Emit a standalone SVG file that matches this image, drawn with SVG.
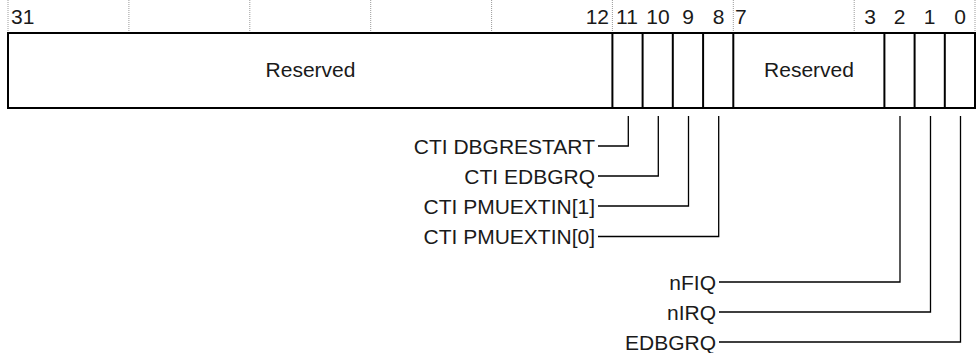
<svg xmlns="http://www.w3.org/2000/svg" width="976" height="353" viewBox="0 0 976 353">
<style>
text{font-family:"Liberation Sans",Arial,sans-serif;font-size:21px;fill:#1a1a1a}
.tick{stroke:#9a9a9a;stroke-width:1;stroke-dasharray:1 1}
.box{fill:#fff;stroke:#000;stroke-width:2}
.div{stroke:#000;stroke-width:2}
.conn{fill:none;stroke:#000;stroke-width:1.3}
.e{text-anchor:end}
.m{text-anchor:middle}
</style>
<rect width="976" height="353" fill="#fff"/>
<g id="ticks">
<line class="tick" x1="8" y1="0" x2="8" y2="31"/>
<line class="tick" x1="128.9" y1="0" x2="128.9" y2="31"/>
<line class="tick" x1="249.8" y1="0" x2="249.8" y2="31"/>
<line class="tick" x1="370.7" y1="0" x2="370.7" y2="31"/>
<line class="tick" x1="491.6" y1="0" x2="491.6" y2="31"/>
<line class="tick" x1="612.4" y1="0" x2="612.4" y2="31"/>
<line class="tick" x1="733.3" y1="0" x2="733.3" y2="31"/>
<line class="tick" x1="854.2" y1="0" x2="854.2" y2="31"/>
<line class="tick" x1="975" y1="0" x2="975" y2="31"/>
</g>
<g id="bitnumbers">
<text x="11" y="24">31</text>
<text class="e" x="609" y="24">12</text>
<text class="m" x="627" y="24">11</text>
<text class="m" x="658" y="24">10</text>
<text class="m" x="688" y="24">9</text>
<text class="m" x="718.5" y="24">8</text>
<text x="735" y="24">7</text>
<text class="m" x="870" y="24">3</text>
<text class="m" x="899.5" y="24">2</text>
<text class="m" x="929.7" y="24">1</text>
<text class="m" x="960" y="24">0</text>
</g>
<g id="register">
<rect class="box" x="8" y="33" width="967" height="75"/>
<line class="div" x1="612.4" y1="33" x2="612.4" y2="108"/>
<line class="div" x1="642.6" y1="33" x2="642.6" y2="108"/>
<line class="div" x1="672.8" y1="33" x2="672.8" y2="108"/>
<line class="div" x1="703.1" y1="33" x2="703.1" y2="108"/>
<line class="div" x1="733.3" y1="33" x2="733.3" y2="108"/>
<line class="div" x1="884.4" y1="33" x2="884.4" y2="108"/>
<line class="div" x1="914.6" y1="33" x2="914.6" y2="108"/>
<line class="div" x1="944.8" y1="33" x2="944.8" y2="108"/>
</g>
<g id="reserved-31-12"><text class="m" x="310.5" y="77">Reserved</text></g>
<g id="reserved-7-3"><text class="m" x="809" y="77">Reserved</text></g>
<g id="connectors">
<polyline class="conn" points="598,146 628.3,146 628.3,116"/>
<polyline class="conn" points="598,176 658.3,176 658.3,116"/>
<polyline class="conn" points="598,206 688.5,206 688.5,116"/>
<polyline class="conn" points="598,236.5 718.7,236.5 718.7,116"/>
<polyline class="conn" points="719,282 900,282 900,116"/>
<polyline class="conn" points="719,312 930.5,312 930.5,116"/>
<polyline class="conn" points="719,342 960.5,342 960.5,116"/>
</g>
<g id="lbl-dbgrestart"><text class="e" x="595" y="153.5">CTI DBGRESTART</text></g>
<g id="lbl-cti-edbgrq"><text class="e" x="595" y="183.5">CTI EDBGRQ</text></g>
<g id="lbl-pmuextin1"><text class="e" x="595" y="213.5">CTI PMUEXTIN[1]</text></g>
<g id="lbl-pmuextin0"><text class="e" x="595" y="243.5">CTI PMUEXTIN[0]</text></g>
<g id="lbl-nfiq"><text class="e" x="716" y="289.5">nFIQ</text></g>
<g id="lbl-nirq"><text class="e" x="716" y="319.5">nIRQ</text></g>
<g id="lbl-edbgrq"><text class="e" x="716" y="349.5">EDBGRQ</text></g>
</svg>
